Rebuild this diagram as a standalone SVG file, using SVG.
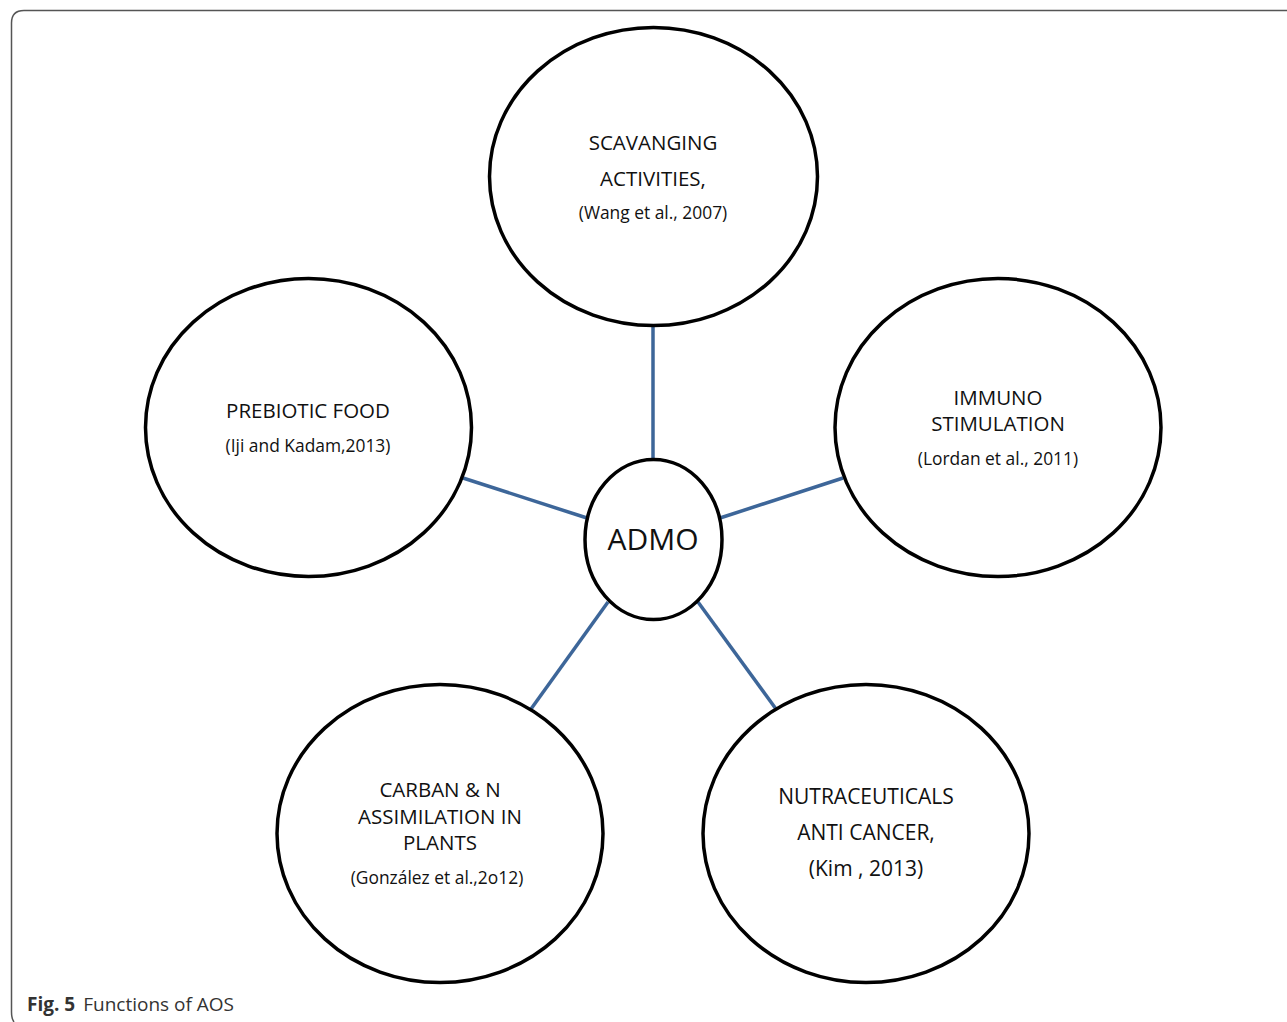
<svg xmlns="http://www.w3.org/2000/svg" width="1287" height="1022" viewBox="0 0 1287 1022">
<style>
.frame{fill:none;stroke:#555;stroke-width:1.5}
.node{fill:#fff;stroke:#000;stroke-width:3.5}
.conn{stroke:#3d6699;stroke-width:3.5;fill:none}
.t{font-family:"Open Sans","Noto Sans",sans-serif;font-size:20.5px;fill:#111;text-anchor:middle}
.c{font-family:"Open Sans","Noto Sans",sans-serif;font-size:17.4px;fill:#111;text-anchor:middle}
.cap{font-family:"Open Sans","Noto Sans",sans-serif;font-size:19px;fill:#333}
</style>
<rect width="1287" height="1022" fill="#fff"/>
<path class="frame" d="M1287 10.5 H24 Q11.5 10.5 11.5 23 V1012 Q11.5 1019 14 1022"/>
<g id="connectors">
<line class="conn" x1="653" y1="326" x2="653" y2="460"/>
<line class="conn" x1="463" y1="478" x2="587" y2="518"/>
<line class="conn" x1="720" y1="518" x2="843" y2="478"/>
<line class="conn" x1="608" y1="602" x2="531" y2="709"/>
<line class="conn" x1="698" y1="602" x2="776" y2="709"/>
</g>
<g id="scavenging">
<ellipse class="node" cx="653.5" cy="176.5" rx="164" ry="149"/>
<text class="t" x="653" y="150">SCAVANGING</text>
<text class="t" x="653" y="186">ACTIVITIES,</text>
<text class="c" x="653" y="219">(Wang et al., 2007)</text>
</g>
<g id="prebiotic">
<ellipse class="node" cx="308.5" cy="427.5" rx="163" ry="149"/>
<text class="t" x="308" y="418">PREBIOTIC FOOD</text>
<text class="c" x="308" y="452">(Iji and Kadam,2013)</text>
</g>
<g id="immuno">
<ellipse class="node" cx="998" cy="427.5" rx="163" ry="149"/>
<text class="t" x="998" y="405">IMMUNO</text>
<text class="t" x="998" y="431">STIMULATION</text>
<text class="c" x="998" y="465">(Lordan et al., 2011)</text>
</g>
<g id="carbon">
<ellipse class="node" cx="440" cy="833.5" rx="163" ry="149"/>
<text class="t" x="440" y="797">CARBAN &amp; N</text>
<text class="t" x="440" y="824">ASSIMILATION IN</text>
<text class="t" x="440" y="850">PLANTS</text>
<text class="c" x="437" y="884">(González et al.,2o12)</text>
</g>
<g id="nutra">
<ellipse class="node" cx="866" cy="833.5" rx="163" ry="149"/>
<text class="t" x="866" y="804" style="font-size:21px">NUTRACEUTICALS</text>
<text class="t" x="866" y="840" style="font-size:21px">ANTI CANCER,</text>
<text class="t" x="866" y="876" style="font-size:21px">(Kim , 2013)</text>
</g>
<g id="admo">
<ellipse class="node" cx="653.5" cy="539.5" rx="68.5" ry="80"/>
<text class="t" x="653" y="550" style="font-size:30px">ADMO</text>
</g>
<text class="cap" x="27" y="1011"><tspan font-weight="bold">Fig. 5</tspan><tspan dx="8">Functions of AOS</tspan></text>
</svg>
